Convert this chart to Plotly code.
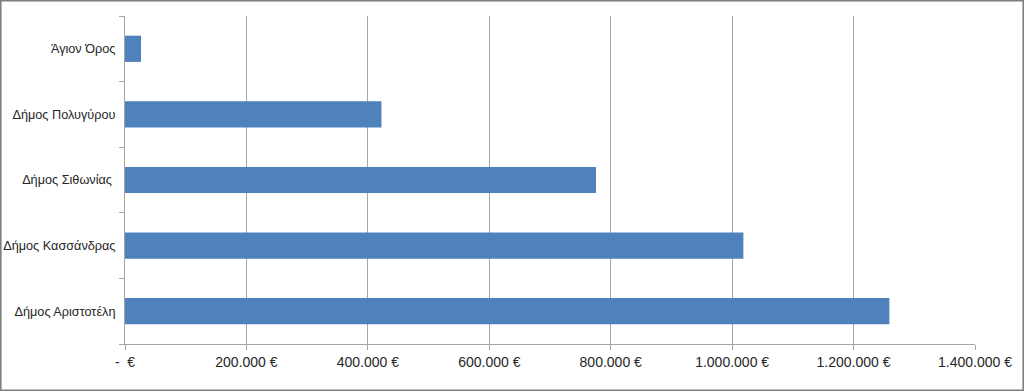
import plotly.graph_objects as go

categories = ["Δήμος Αριστοτέλη", "Δήμος Κασσάνδρας", "Δήμος Σιθωνίας\u00a0", "Δήμος Πολυγύρου", "Άγιον Όρος"]
values = [1259000, 1018500, 775800, 422400, 26400]
tick_vals = [0, 200000, 400000, 600000, 800000, 1000000, 1200000, 1400000]
tick_text = ["-  €", "200.000 €", "400.000 €", "600.000 €", "800.000 €", "1.000.000 €", "1.200.000 €", "1.400.000 €"]

W, H = 1024, 391
L, R, T, B = 125, 49, 16, 47
pw, ph = W - L - R, H - T - B

fig = go.Figure(go.Bar(
    y=categories, x=values, orientation="h",
    marker=dict(color="#4F81BD", line=dict(width=0)),
    width=0.4,
))

fig.update_layout(
    width=W, height=H,
    margin=dict(l=L, r=R, t=T, b=B, pad=0, autoexpand=False),
    paper_bgcolor="white", plot_bgcolor="white",
    font=dict(family="Liberation Sans, Arial, sans-serif", size=13, color="#262626"),
    showlegend=False,
    bargap=0.6,
)
fig.update_xaxes(
    range=[0, 1400000], tickvals=tick_vals, ticktext=tick_text,
    tickfont=dict(size=14),
    showgrid=True, gridcolor="#A6A6A6", gridwidth=1,
    showline=True, linecolor="#A6A6A6", linewidth=1,
    ticks="outside", ticklen=5, tickcolor="#A6A6A6",
    zeroline=False, fixedrange=True, automargin=False,
)
fig.update_yaxes(
    type="category", categoryorder="array", categoryarray=categories,
    tickfont=dict(size=12.7),
    showline=True, linecolor="#A6A6A6", linewidth=1,
    ticks="outside", ticklen=5, tickcolor="#A6A6A6", tickson="boundaries",
    showgrid=False, ticklabelstandoff=6, automargin=False, fixedrange=True,
)
fig.add_shape(
    type="rect", xref="paper", yref="paper",
    x0=-L / pw + 0.6 / pw, x1=1 + R / pw - 0.6 / pw,
    y0=-B / ph + 0.6 / ph, y1=1 + T / ph - 0.6 / ph,
    line=dict(color="#7F7F7F", width=2), fillcolor="rgba(0,0,0,0)", layer="above",
)

fig.write_html("out.html", config={"displayModeBar": False},
               post_script="document.body.style.margin='0';document.body.style.overflow='hidden';")
